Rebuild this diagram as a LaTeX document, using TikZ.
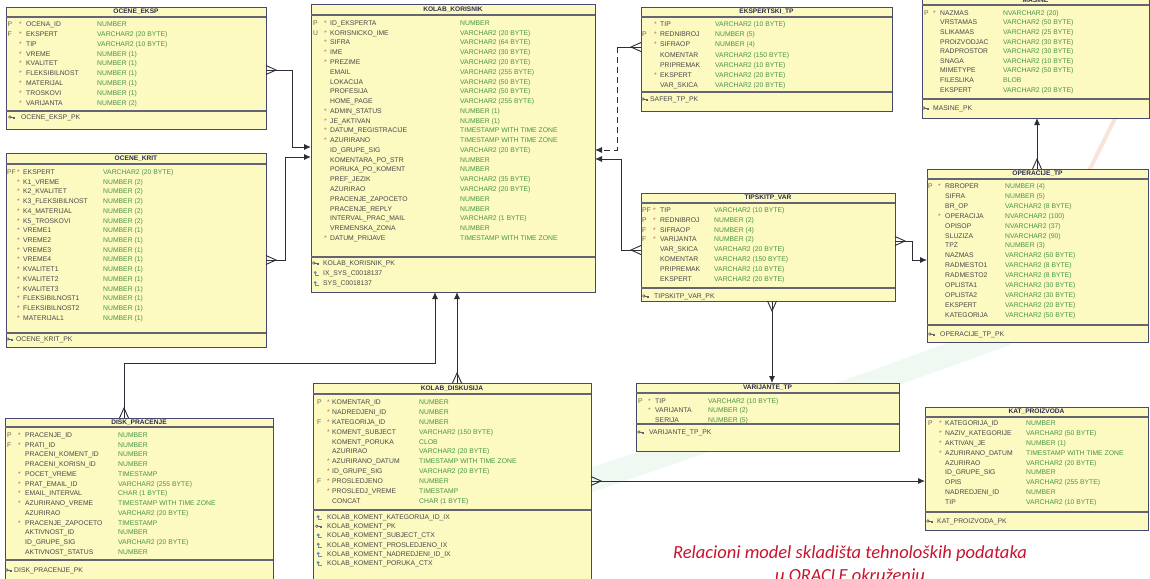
\documentclass[tikz,border=0pt]{standalone}
\usepackage{fontspec}
\usetikzlibrary{calc,arrows.meta}
\newfontfamily\erfam{Liberation Sans}
\newfontfamily\capfam{Carlito}
\definecolor{tabfill}{RGB}{252,249,193}
\definecolor{tabline}{RGB}{72,72,110}
\definecolor{rulecol}{RGB}{100,100,115}
\definecolor{namecol}{RGB}{72,72,72}
\definecolor{typecol}{RGB}{70,150,70}
\definecolor{flagcol}{RGB}{110,100,90}
\definecolor{starcol}{RGB}{190,100,95}
\definecolor{ttlcol}{RGB}{45,45,80}
\definecolor{conncol}{RGB}{45,45,55}
\definecolor{capcol}{RGB}{200,20,45}
\definecolor{iconcol}{RGB}{95,95,110}
\definecolor{ixcol}{RGB}{110,140,160}
\definecolor{swgreen}{RGB}{205,235,210}
\definecolor{sworange}{RGB}{245,195,170}
\newcommand\erfont{\erfam\fontsize{6.8}{8}\selectfont}
\newcommand\erttlfont{\erfam\bfseries\fontsize{6.6}{8}\selectfont}
\tikzset{
  tab/.style={rectangle, draw=tabline, fill=tabfill, line width=0.9pt, inner sep=0pt, outer sep=0pt},
  ttl/.style={font=\erttlfont, text=ttlcol, inner sep=0pt},
  flagtxt/.style={anchor=base west, font=\erfont, text=flagcol, inner sep=0pt},
  starmark/.style={anchor=base west, font=\erfont, text=starcol, inner sep=0pt},
  colname/.style={anchor=base west, font=\erfont, text=namecol, inner sep=0pt},
  coltype/.style={anchor=base west, font=\erfont, text=typecol, inner sep=0pt},
  rowrule/.style={draw=rulecol, line width=1.2pt},
  conn/.style={draw=conncol, line width=0.9pt},
  tipone/.style={-{Latex[length=7pt,width=6pt]}},
  optional/.style={dash pattern=on 6pt off 4pt},
  captxt/.style={anchor=base, font=\capfam\itshape\fontsize{18.5}{22}\selectfont, text=capcol, inner sep=0pt}
}
% table frame: name, left, top, width, height, title, title rule dy, index rule dy
\newcommand\ertable[8]{%
  \node[tab, minimum width=#4pt, minimum height=#5pt, anchor=north west] (#1) at (#2,#3) {};
  \node[ttl] (#1-title) at ($(#1.north)+(0,#7/2)$) {#6};
  \draw[rowrule] ($(#1.north west)+(0,#7)$) -- ($(#1.north east)+(0,#7)$);
  \draw[rowrule] ($(#1.north west)+(0,#8)$) -- ($(#1.north east)+(0,#8)$);
}
% column rows: name, first row dy, step, flag dx, star dx, name dx, type dx, rows
\newcommand\errows[8]{%
  \foreach \fl/\st/\nm/\ty [count=\i from 0] in {#8} {
    \node[flagtxt] (#1-f\i) at ($(#1.north west)+(#4,#2+2.4+\i*#3)$) {\fl};
    \node[starmark] (#1-s\i) at ($(#1.north west)+(#5,#2+2.4+\i*#3)$) {\st};
    \node[colname] (#1-n\i) at ($(#1.north west)+(#6,#2+2.4+\i*#3)$) {\nm};
    \node[coltype] (#1-t\i) at ($(#1.north west)+(#7,#2+2.4+\i*#3)$) {\ty};
  }}
% index rows: name, first row dy, step, icon dx, text dx, icon/name list
\newcommand\erindex[6]{%
  \foreach \ic/\nm [count=\i from 0] in {#6} {
    \coordinate (#1-ic\i) at ($(#1.north west)+(#4,#2+\i*#3)$);
    \begin{scope}[shift={(#1-ic\i)}]
      \if k\ic
        \draw[iconcol, line width=0.6pt] (-2.2,0) circle (1.3);
        \draw[iconcol, line width=0.7pt] (-0.9,0) -- (3,0) (1.6,0) -- (1.6,1.6) (2.8,0) -- (2.8,1.6);
      \else
        \fill[ixcol] (-0.8,-0.4) circle (1.6);
        \draw[ixcol, line width=0.7pt] (-0.8,1) -- (-0.8,2.4) -- (2.6,2.4);
      \fi
    \end{scope}
    \node[colname] (#1-x\i) at ($(#1.north west)+(#5,#2+2.4+\i*#3)$) {\nm};
  }}
% crow's feet on the "many" end of a relation
\newcommand\crowR[1]{\draw[conn] ($(#1)+(0,-4.5)$) -- ($(#1)+(10,0)$) -- ($(#1)+(0,4.5)$);}
\newcommand\crowL[1]{\draw[conn] ($(#1)+(0,-4.5)$) -- ($(#1)+(-10,0)$) -- ($(#1)+(0,4.5)$);}
\newcommand\crowU[1]{\draw[conn] ($(#1)+(-4.5,0)$) -- ($(#1)+(0,-10)$) -- ($(#1)+(4.5,0)$);}
\newcommand\crowD[1]{\draw[conn] ($(#1)+(-4.5,0)$) -- ($(#1)+(0,10)$) -- ($(#1)+(4.5,0)$);}
\begin{document}
\catcode`\_=12
\begin{tikzpicture}[x=1pt,y=-1pt]
\useasboundingbox (0,0) rectangle (1150,578);
\clip (0,0) rectangle (1150,578);
\fill[white] (0,0) rectangle (1150,578);
% soft background swooshes
\fill[swgreen, opacity=0.3] (430,520) .. controls (650,450) and (820,390) .. (1010,320) -- (1010,345) .. controls (830,410) and (660,470) .. (450,540) -- cycle;
\draw[sworange, line width=4pt, opacity=0.45] (1082,185) -- (1128,92);

% ---------- tables ----------
\ertable{oe}{6}{7}{260}{122}{OCENE_EKSP}{10}{104}
\errows{oe}{17}{9.9}{1.5}{13}{20}{91}{P/*/OCENA_ID/NUMBER, F/*/EKSPERT/VARCHAR2 (20 BYTE), /*/TIP/VARCHAR2 (10 BYTE), /*/VREME/NUMBER (1), /*/KVALITET/NUMBER (1), /*/FLEKSIBILNOST/NUMBER (1), /*/MATERIJAL/NUMBER (1), /*/TROSKOVI/NUMBER (1), /*/VARIJANTA/NUMBER (2)}
\erindex{oe}{110}{10}{6}{15}{k/OCENE_EKSP_PK}

\ertable{ok}{6}{153}{260}{194}{OCENE_KRIT}{11}{180}
\errows{ok}{19}{9.73}{1}{11}{17}{97}{PF/*/EKSPERT/VARCHAR2 (20 BYTE), /*/K1_VREME/NUMBER (2), /*/K2_KVALITET/NUMBER (2), /*/K3_FLEKSIBILNOST/NUMBER (2), /*/K4_MATERIJAL/NUMBER (2), /*/K5_TROSKOVI/NUMBER (2), /*/VREME1/NUMBER (1), /*/VREME2/NUMBER (1), /*/VREME3/NUMBER (1), /*/VREME4/NUMBER (1), /*/KVALITET1/NUMBER (1), /*/KVALITET2/NUMBER (1), /*/KVALITET3/NUMBER (1), /*/FLEKSIBILNOST1/NUMBER (1), /*/FLEKSIBILNOST2/NUMBER (1), /*/MATERIJAL1/NUMBER (1)}
\erindex{ok}{186}{10}{4}{10}{k/OCENE_KRIT_PK}

\ertable{kk}{311}{4}{284}{288}{KOLAB_KORISNIK}{11}{253}
\errows{kk}{19}{9.77}{2}{13}{19}{149}{P/*/ID_EKSPERTA/NUMBER, U/*/KORISNICKO_IME/VARCHAR2 (20 BYTE), /*/SIFRA/VARCHAR2 (64 BYTE), /*/IME/VARCHAR2 (30 BYTE), /*/PREZIME/VARCHAR2 (20 BYTE), //EMAIL/VARCHAR2 (255 BYTE), //LOKACIJA/VARCHAR2 (50 BYTE), //PROFESIJA/VARCHAR2 (50 BYTE), //HOME_PAGE/VARCHAR2 (255 BYTE), /*/ADMIN_STATUS/NUMBER (1), /*/JE_AKTIVAN/NUMBER (1), /*/DATUM_REGISTRACIJE/TIMESTAMP WITH TIME ZONE, /*/AZURIRANO/TIMESTAMP WITH TIME ZONE, //ID_GRUPE_SIG/VARCHAR2 (20 BYTE), //KOMENTARA_PO_STR/NUMBER, //PORUKA_PO_KOMENT/NUMBER, //PREF_JEZIK/VARCHAR2 (35 BYTE), //AZURIRAO/VARCHAR2 (20 BYTE), //PRACENJE_ZAPOCETO/NUMBER, //PRACENJE_REPLY/NUMBER, //INTERVAL_PRAC_MAIL/VARCHAR2 (1 BYTE), //VREMENSKA_ZONA/NUMBER, /*/DATUM_PRIJAVE/TIMESTAMP WITH TIME ZONE}
\erindex{kk}{259}{10}{5}{12}{k/KOLAB_KORISNIK_PK, x/IX_SYS_C0018137, x/SYS_C0018137}

\ertable{et}{641}{7}{251}{104}{EKSPERTSKI_TP}{10}{85}
\errows{et}{17}{10.2}{1}{13}{19}{74}{/*/TIP/VARCHAR2 (10 BYTE), P/*/REDNIBROJ/NUMBER (5), /*/SIFRAOP/NUMBER (4), //KOMENTAR/VARCHAR2 (150 BYTE), //PRIPREMAK/VARCHAR2 (10 BYTE), /*/EKSPERT/VARCHAR2 (20 BYTE), //VAR_SKICA/VARCHAR2 (20 BYTE)}
\erindex{et}{92}{10}{4}{9}{k/SAFER_TP_PK}

\ertable{ms}{922}{-4}{227}{122}{MASINE}{9}{103}
\errows{ms}{17}{9.6}{2}{11}{18}{81}{P/*/NAZMAS/NVARCHAR2 (20), //VRSTAMAS/VARCHAR2 (50 BYTE), //SLIKAMAS/VARCHAR2 (25 BYTE), //PROIZVODJAC/VARCHAR2 (30 BYTE), //RADPROSTOR/VARCHAR2 (30 BYTE), //SNAGA/VARCHAR2 (10 BYTE), //MIMETYPE/VARCHAR2 (50 BYTE), //FILESLIKA/BLOB, //EKSPERT/VARCHAR2 (20 BYTE)}
\erindex{ms}{112}{10}{4}{11}{k/MASINE_PK}

\ertable{op}{927}{169}{221}{173}{OPERACIJE_TP}{10}{156}
\errows{op}{17}{9.92}{1}{11}{18}{78}{P/*/RBROPER/NUMBER (4), //SIFRA/NUMBER (5), //BR_OP/VARCHAR2 (8 BYTE), /*/OPERACIJA/NVARCHAR2 (100), //OPISOP/NVARCHAR2 (37), //SLUZIZA/NVARCHAR2 (90), //TPZ/NUMBER (3), //NAZMAS/VARCHAR2 (50 BYTE), //RADMESTO1/VARCHAR2 (8 BYTE), //RADMESTO2/VARCHAR2 (8 BYTE), //OPLISTA1/VARCHAR2 (30 BYTE), //OPLISTA2/VARCHAR2 (30 BYTE), //EKSPERT/VARCHAR2 (20 BYTE), //KATEGORIJA/VARCHAR2 (50 BYTE)}
\erindex{op}{165}{10}{5}{13}{k/OPERACIJE_TP_PK}

\ertable{tv}{641}{193}{254}{108}{TIPSKITP_VAR}{10}{95}
\errows{tv}{17}{9.86}{1}{12}{19}{73}{PF/*/TIP/VARCHAR2 (10 BYTE), P/*/REDNIBROJ/NUMBER (2), F/*/SIFRAOP/NUMBER (4), F/*/VARIJANTA/NUMBER (2), //VAR_SKICA/VARCHAR2 (20 BYTE), //KOMENTAR/VARCHAR2 (150 BYTE), //PRIPREMAK/VARCHAR2 (10 BYTE), //EKSPERT/VARCHAR2 (20 BYTE)}
\erindex{tv}{103}{10}{5}{13}{k/TIPSKITP_VAR_PK}

\ertable{vt}{636}{383}{263}{68}{VARIJANTE_TP}{10}{41}
\errows{vt}{18}{9.5}{2}{12}{19}{72}{P/*/TIP/VARCHAR2 (10 BYTE), /*/VARIJANTA/NUMBER (2), //SERIJA/NUMBER (5)}
\erindex{vt}{49}{10}{5}{13}{k/VARIJANTE_TP_PK}

\ertable{dp}{5}{418}{268}{170}{DISK_PRACENJE}{9}{142}
\errows{dp}{17}{9.75}{2}{13}{20}{113}{P/*/PRACENJE_ID/NUMBER, F/*/PRATI_ID/NUMBER, //PRACENI_KOMENT_ID/NUMBER, //PRACENI_KORISN_ID/NUMBER, /*/POCET_VREME/TIMESTAMP, /*/PRAT_EMAIL_ID/VARCHAR2 (255 BYTE), /*/EMAIL_INTERVAL/CHAR (1 BYTE), /*/AZURIRANO_VREME/TIMESTAMP WITH TIME ZONE, //AZURIRAO/VARCHAR2 (20 BYTE), /*/PRACENJE_ZAPOCETO/TIMESTAMP, //AKTIVNOST_ID/NUMBER, //ID_GRUPE_SIG/VARCHAR2 (20 BYTE), //AKTIVNOST_STATUS/NUMBER}
\erindex{dp}{152}{10}{4}{9}{k/DISK_PRACENJE_PK}

\ertable{kd}{313}{383}{278}{205}{KOLAB_DISKUSIJA}{11}{127}
\errows{kd}{19}{9.9}{4}{14}{19}{106}{P/*/KOMENTAR_ID/NUMBER, /*/NADREDJENI_ID/NUMBER, F/*/KATEGORIJA_ID/NUMBER, /*/KOMENT_SUBJECT/VARCHAR2 (150 BYTE), //KOMENT_PORUKA/CLOB, //AZURIRAO/VARCHAR2 (20 BYTE), /*/AZURIRANO_DATUM/TIMESTAMP WITH TIME ZONE, /*/ID_GRUPE_SIG/VARCHAR2 (20 BYTE), F/*/PROSLEDJENO/NUMBER, /*/PROSLEDJ_VREME/TIMESTAMP, //CONCAT/CHAR (1 BYTE)}
\erindex{kd}{134}{9.2}{6}{14}{x/KOLAB_KOMENT_KATEGORIJA_ID_IX, k/KOLAB_KOMENT_PK, x/KOLAB_KOMENT_SUBJECT_CTX, x/KOLAB_KOMENT_PROSLEDJENO_IX, x/KOLAB_KOMENT_NADREDJENI_ID_IX, x/KOLAB_KOMENT_PORUKA_CTX}

\ertable{kp}{925}{407}{223}{123}{KAT_PROIZVODA}{10}{105}
\errows{kp}{16}{9.9}{3}{14}{20}{101}{P/*/KATEGORIJA_ID/NUMBER, /*/NAZIV_KATEGORIJE/VARCHAR2 (50 BYTE), /*/AKTIVAN_JE/NUMBER (1), /*/AZURIRANO_DATUM/TIMESTAMP WITH TIME ZONE, //AZURIRAO/VARCHAR2 (20 BYTE), //ID_GRUPE_SIG/NUMBER, //OPIS/VARCHAR2 (255 BYTE), //NADREDJENI_ID/NUMBER, //TIP/VARCHAR2 (10 BYTE)}
\erindex{kp}{114}{10}{5}{12}{k/KAT_PROIZVODA_PK}

% ---------- relations ----------
\coordinate (r1a) at ($(oe.north east)+(0,63)$);
\coordinate (r1b) at ($(kk.north west)+(0,143)$);
\draw[conn,tipone] (r1a) -- ++(26,0) |- (r1b);
\crowR{r1a}

\coordinate (r2a) at ($(ok.north east)+(0,107)$);
\coordinate (r2b) at ($(kk.north west)+(0,153)$);
\draw[conn,tipone] (r2a) -- ++(19,0) |- (r2b);
\crowR{r2a}

\coordinate (r3a) at ($(et.north west)+(0,40)$);
\coordinate (r3b) at ($(kk.north east)+(0,146)$);
\draw[conn] (r3a) -- ++(-24,0) coordinate (r3m);
\draw[conn,optional,tipone] (r3m) |- (r3b);
\crowL{r3a}

\coordinate (r4a) at ($(tv.north west)+(0,57)$);
\coordinate (r4b) at ($(kk.north east)+(0,155)$);
\draw[conn,tipone] (r4a) -- ++(-20,0) |- (r4b);
\crowL{r4a}

\coordinate (r5a) at ($(tv.north east)+(0,48)$);
\coordinate (r5b) at ($(op.north west)+(0,91)$);
\draw[conn,tipone] (r5a) -- ++(17,0) |- (r5b);
\crowR{r5a}

\coordinate (r6a) at ($(op.north west)+(110,0)$);
\coordinate (r6b) at ($(ms.south west)+(115,0)$);
\draw[conn,tipone] (r6a) -- (r6b);
\crowU{r6a}

\coordinate (r7a) at ($(tv.south west)+(131,0)$);
\coordinate (r7b) at ($(vt.north west)+(136,0)$);
\draw[conn,tipone] (r7a) -- (r7b);
\crowD{r7a}

\coordinate (r8a) at ($(dp.north west)+(119,0)$);
\coordinate (r8b) at ($(kk.south west)+(124,0)$);
\draw[conn,tipone] (r8a) -- ++(0,-55) -| (r8b);
\crowU{r8a}

\coordinate (r9a) at ($(kd.north west)+(144,0)$);
\coordinate (r9b) at ($(kk.south west)+(146,0)$);
\draw[conn,tipone] (r9a) -- (r9b);
\crowU{r9a}

\coordinate (r10a) at ($(kd.north east)+(0,98)$);
\coordinate (r10b) at ($(kp.north west)+(0,74)$);
\draw[conn,tipone] (r10a) -- (r10b);
\crowR{r10a}

% ---------- caption ----------
\node[captxt] (cap1) at (850,558) {Relacioni model skladišta tehnoloških podataka};
\node[captxt] (cap2) at (850,581) {u ORACLE okruženju};
\end{tikzpicture}
\end{document}
